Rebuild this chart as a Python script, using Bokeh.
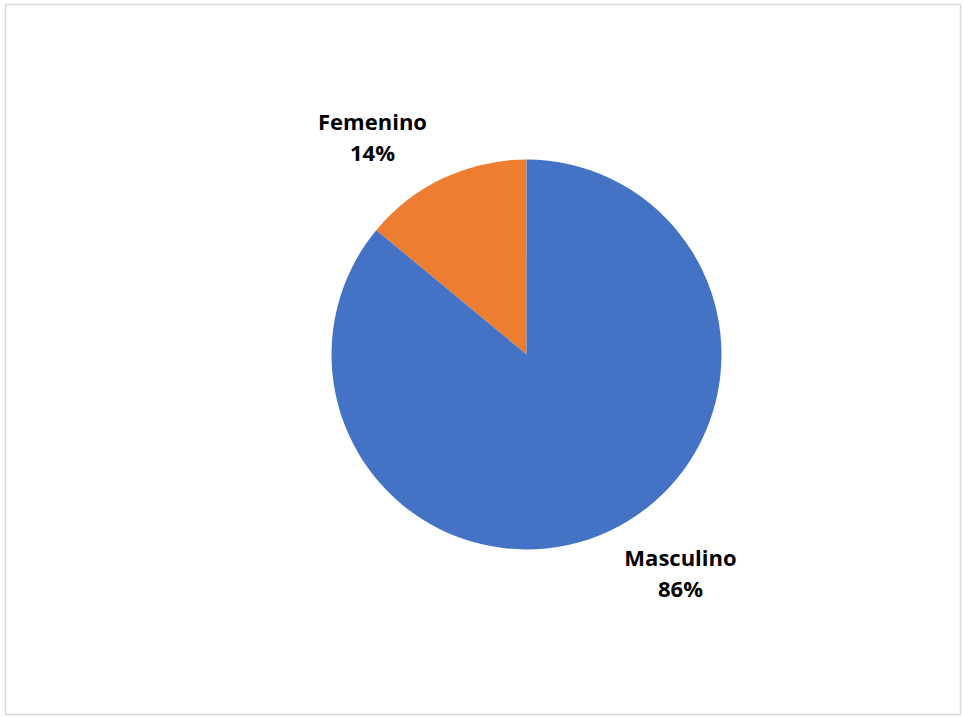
import math
from bokeh.plotting import figure
from bokeh.models import ColumnDataSource
from bokeh.core.properties import value
from bokeh.embed import file_html
from bokeh.resources import INLINE

categories = ["Femenino", "Masculino"]
shares = [14, 86]
pct_labels = ["14%", "86%"]
colors = ["#ED7D31", "#4472C4"]

W, H = 964, 717
CX, CY, R = 526, H - 354, 195
LABEL_R = 1.37 * R
LABEL_SHIFT = math.radians(10)
LINE_GAP = 15.5

total = sum(shares)
starts, ends, mids = [], [], []
a = math.pi / 2
for s in shares:
    span = 2 * math.pi * s / total
    starts.append(a)
    ends.append(a + span)
    mids.append(a + span / 2)
    a += span

src = ColumnDataSource(dict(cat=categories, start=starts, end=ends, color=colors))

p = figure(width=W, height=H, x_range=(0, W), y_range=(0, H),
           output_backend="svg", toolbar_location=None, min_border=0)
p.axis.visible = False
p.grid.visible = False
p.outline_line_color = None
p.background_fill_color = "white"
p.border_fill_color = "white"

p.quad(left=[5], right=[960], top=[H - 4], bottom=[H - 714],
       fill_alpha=0, line_color="#d9d9d9", line_width=1.5)

p.wedge(x=CX, y=CY, radius=R, start_angle="start", end_angle="end",
        fill_color="color", line_color=None, source=src)

lx = [CX + LABEL_R * math.cos(m + LABEL_SHIFT) for m in mids]
ly = [CY + LABEL_R * math.sin(m + LABEL_SHIFT) for m in mids]
font = value("Open Sans")
p.text(x=lx, y=[y + LINE_GAP for y in ly], text=categories,
       text_font=font, text_font_style="bold", text_font_size="22px",
       text_align="center", text_baseline="middle", text_color="#000000")
p.text(x=lx, y=[y - LINE_GAP for y in ly], text=pct_labels,
       text_font=font, text_font_style="bold", text_font_size="22px",
       text_align="center", text_baseline="middle", text_color="#000000")

open("out.html", "w").write(file_html(p, INLINE))
